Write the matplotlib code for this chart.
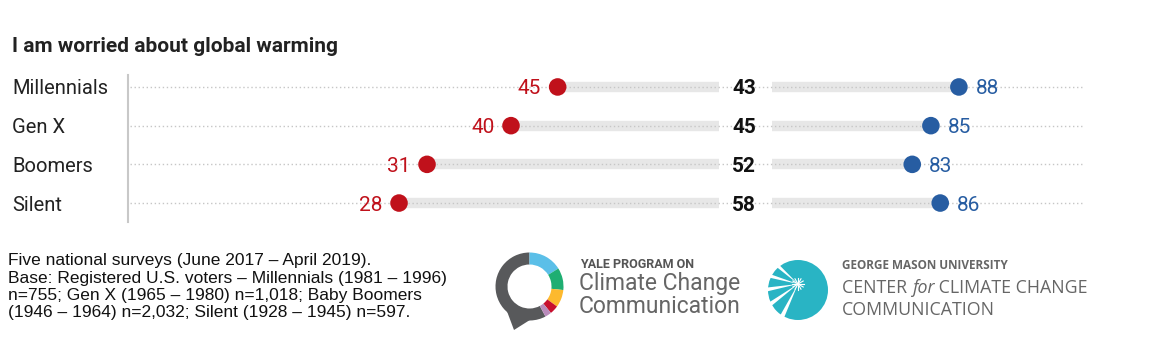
import matplotlib
matplotlib.use("Agg")
import matplotlib.pyplot as plt
import matplotlib.transforms as mtransforms
from matplotlib.patches import Wedge, Polygon, Circle
from matplotlib.lines import Line2D
import numpy as np

# ---- data ----
generations = ["Millennials", "Gen X", "Boomers", "Silent"]
republicans = [45, 40, 31, 28]
democrats = [88, 85, 83, 86]
gaps = [43, 45, 52, 58]

title = "I am worried about global warming"
footnote = [
    "Five national surveys (June 2017 \u2013 April 2019).",
    "Base: Registered U.S. voters \u2013 Millennials (1981 \u2013 1996)",
    "n=755; Gen X (1965 \u2013 1980) n=1,018; Baby Boomers",
    "(1946 \u2013 1964) n=2,032; Silent (1928 \u2013 1945) n=597.",
]

RED = "#c0111b"
BLUE = "#275da2"
W, H = 1158, 348

fig = plt.figure(figsize=(W / 100, H / 100), dpi=100)

# main dot chart, placed in pixel units
ax = fig.add_axes([130 / W, 1 - 222 / H, (1083 - 130) / W, (222 - 68) / H])
x0, x1 = -0.83, 101.3
ax.set_xlim(x0, x1)
ax.set_ylim(3.49, -0.49)
ax.axis("off")

y = np.arange(len(generations))
gap_lo, gap_hi, gap_mid = 62.3, 68.0, 65.0

ax.hlines(y, x0, x1, colors="#c6c6c6", lw=1, linestyles=(0, (1, 1.9)), zorder=2)
bands = ax.hlines(y, republicans, gap_lo, colors="#e7e7e7", lw=7.5, zorder=1)
bands.set_capstyle("butt")
bands = ax.hlines(y, gap_hi, democrats, colors="#e7e7e7", lw=7.5, zorder=1)
bands.set_capstyle("butt")

ax.scatter(republicans, y, s=160, color=RED, edgecolors="none", zorder=3)
ax.scatter(democrats, y, s=160, color=BLUE, edgecolors="none", zorder=3)

for yi, r, d, g in zip(y, republicans, democrats, gaps):
    ax.annotate(str(r), (r, yi), xytext=(-12, 0), textcoords="offset points",
                ha="right", va="center_baseline", fontsize=15, color=RED, family="Roboto")
    ax.annotate(str(d), (d, yi), xytext=(12, 0), textcoords="offset points",
                ha="left", va="center_baseline", fontsize=15, color=BLUE, family="Roboto")
    ax.text(gap_mid, yi, str(g), ha="center", va="center_baseline", fontsize=15,
            fontweight="bold", color="#111111", family="Roboto")

lab_tr = mtransforms.blended_transform_factory(fig.transFigure, ax.transData)
for yi, name in zip(y, generations):
    ax.text(12 / W, yi, name, transform=lab_tr, ha="left", va="center_baseline",
            fontsize=14.5, color="#222222", family="Roboto")

fig.add_artist(Line2D([128 / W, 128 / W], [1 - 75 / H, 1 - 222 / H],
                      color="#c8c8c8", lw=1.5))

fig.text(12 / W, 1 - 47 / H, title, ha="left", va="center", fontsize=15,
         fontweight="bold", color="#222222", family="Roboto")

for i, line in enumerate(footnote):
    fig.text(8 / W, 1 - (261 + 17.3 * i) / H, line, ha="left", va="center",
             fontsize=12.5, color="#111111", family="Liberation Sans")

# ---- logos, drawn in pixel coordinates ----
lax = fig.add_axes([0, 0, 1, 1])
lax.set_xlim(0, W)
lax.set_ylim(0, H)
lax.axis("off")


def py(v):
    return H - v


# Yale ring with speech-bubble tail
cx, cy = 529.5, py(286.5)
ring = [("#58595b", 90, 298), ("#5bbfe8", 32, 90), ("#1fae72", -6, 32),
        ("#fdb92e", -36, -6), ("#c8102e", -51, -36), ("#b98bbb", -62, -51)]
for col, t1, t2 in ring:
    lax.add_patch(Wedge((cx, cy), 34, t1, t2, width=12, color=col, lw=0))
lax.add_patch(Polygon([(505, py(306)), (533, py(318)), (514, py(330))],
                      closed=True, color="#58595b", lw=0))

fig.text(580 / W, 1 - 268 / H, "YALE PROGRAM ON", ha="left", va="baseline",
         fontsize=9, fontweight="bold", color="#555555", family="Roboto")
fig.text(579 / W, 1 - 290 / H, "Climate Change", ha="left", va="baseline",
         fontsize=16.5, color="#666666", family="Roboto")
fig.text(579 / W, 1 - 313 / H, "Communication", ha="left", va="baseline",
         fontsize=16.5, color="#666666", family="Roboto")

# George Mason shell mark
TEAL = "#29b4c4"
gx, gy = 798, py(290)
lax.add_patch(Circle((gx, gy), 30, color=TEAL, lw=0))
bx, by = 798, py(284)
for a in [138, 164, 190, 216, 244]:
    t1, t2 = np.radians(a - 3.5), np.radians(a + 3.5)
    pts = [(bx, by), (bx + 45 * np.cos(t1), by + 45 * np.sin(t1)),
           (bx + 45 * np.cos(t2), by + 45 * np.sin(t2))]
    lax.add_patch(Polygon(pts, closed=True, color="white", lw=0))
for a in np.arange(0, 360, 30):
    t = np.radians(a)
    lax.plot([bx, bx + 6 * np.cos(t)], [by, by + 6 * np.sin(t)], color="white", lw=0.8)

fig.text(842 / W, 1 - 269 / H, "GEORGE MASON UNIVERSITY", ha="left", va="baseline",
         fontsize=8.5, fontweight="bold", color="#666666", family="Open Sans")

renderer = fig.canvas.get_renderer()
xpos = 842
for part, style in [("CENTER ", "normal"), ("for", "italic"), (" CLIMATE CHANGE", "normal")]:
    t = fig.text(xpos / W, 1 - 293 / H, part, ha="left", va="baseline", fontsize=12.8,
                 style=style, color="#666666", family="Open Sans")
    xpos += t.get_window_extent(renderer).width
fig.text(842 / W, 1 - 315 / H, "COMMUNICATION", ha="left", va="baseline",
         fontsize=12.8, color="#666666", family="Open Sans")

fig.savefig("out.png", dpi=100)
